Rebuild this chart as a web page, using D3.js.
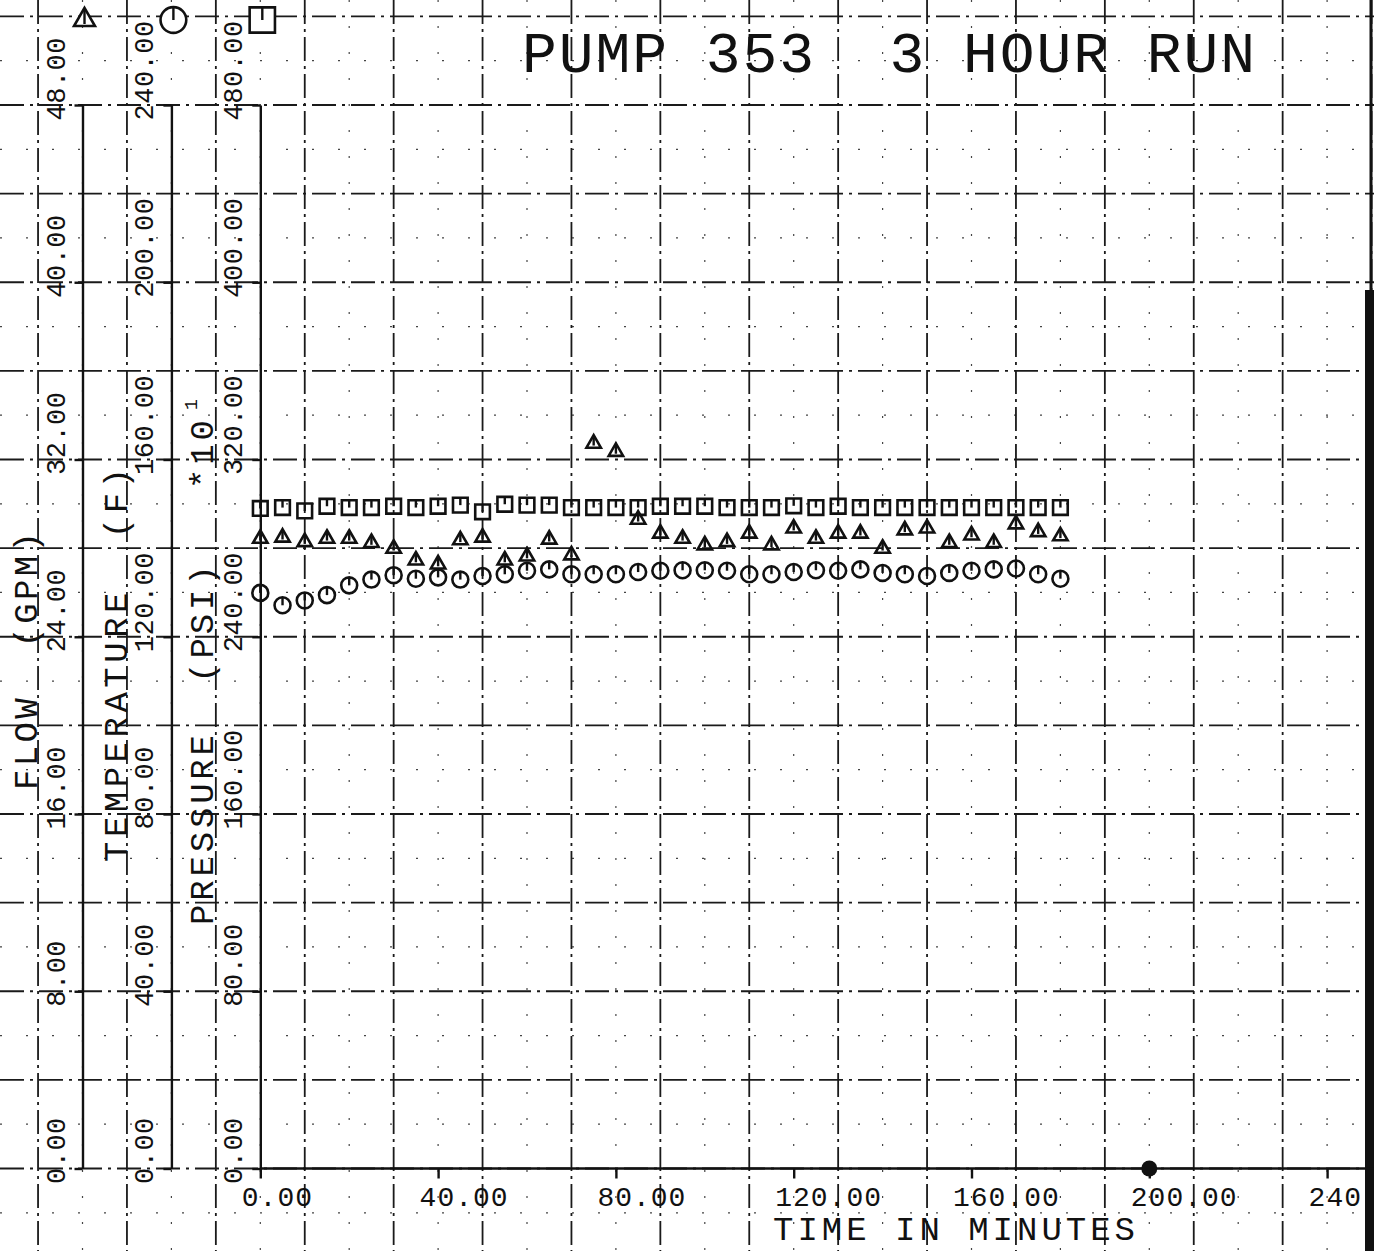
<!DOCTYPE html>
<html>
<head>
<meta charset="utf-8">
<script src="https://cdn.jsdelivr.net/npm/d3@7"></script>
<style>
  html, body { margin: 0; padding: 0; background: #fff; }
  svg { display: block; background: #fff; }
  text { font-family: "Liberation Mono", "DejaVu Sans Mono", monospace; fill: #111; }
</style>
</head>
<body>
<svg width="1374" height="1251"></svg>
<script>
// Readings taken every 5 minutes over the 3 hour run
const times = [0, 5, 10, 15, 20, 25, 30, 35, 40, 45, 50, 55, 60, 65, 70, 75, 80, 85, 90,
    95, 100, 105, 110, 115, 120, 125, 130, 135, 140, 145, 150, 155, 160, 165, 170, 175, 180];

const flowGpm = [28.43, 28.48, 28.28, 28.43, 28.43, 28.24, 27.98, 27.45, 27.27, 28.36,
    28.48, 27.45, 27.63, 28.39, 27.68, 32.72, 32.35, 29.29, 28.66, 28.43,
    28.13, 28.28, 28.66, 28.13, 28.89, 28.43, 28.66, 28.66, 27.98, 28.81,
    28.89, 28.24, 28.58, 28.24, 29.08, 28.73, 28.54];

const temperatureF = [129.9, 127.1, 128.2, 129.4, 131.6, 132.9, 133.9, 133.1, 133.4, 132.9,
    133.7, 134.1, 134.9, 135.2, 134.1, 134.1, 134.1, 134.6, 134.9, 135.0,
    135.0, 134.9, 134.1, 134.1, 134.6, 135.0, 134.9, 135.2, 134.4, 134.1,
    133.7, 134.4, 134.9, 135.2, 135.4, 134.1, 133.1];

// pressure in units of 10 psi
const pressurePsi = [297.9, 298.3, 296.8, 298.9, 298.3, 298.3, 298.9, 298.3, 298.9, 299.4,
    296.4, 299.8, 299.4, 299.4, 298.3, 298.3, 298.3, 298.3, 298.9, 298.9,
    298.9, 298.3, 298.3, 298.3, 299.1, 298.3, 298.9, 298.3, 298.3, 298.3,
    298.3, 298.3, 298.3, 298.3, 298.3, 298.3, 298.3];

const timeTicks = [0, 40, 80, 120, 160, 200, 240];
const flowTicks = [0, 8, 16, 24, 32, 40, 48];
const tempTicks = [0, 40, 80, 120, 160, 200, 240];
const pressureTicks = [0, 80, 160, 240, 320, 400, 480];
const penStop = 200;

const svg = d3.select("svg"),
    width = +svg.attr("width"),
    height = +svg.attr("height");

const ink = "#111";

// Scales (paper squares line up with 20 minutes / 4 gpm)
const x = d3.scaleLinear().domain([0, 240]).range([260.3, 1327.1]);
const yFlow = d3.scaleLinear().domain([0, 48]).range([1168.5, 105]);
const yTemp = d3.scaleLinear().domain([0, 240]).range([1168.5, 105]);
const yPress = d3.scaleLinear().domain([0, 480]).range([1168.5, 105]);

// Graph paper
const paper = svg.append("g").attr("class", "paper");

paper.selectAll("line.vminor")
    .data(d3.range(-40, 241, 20))
    .enter().append("line")
    .attr("x1", d => x(d)).attr("x2", d => x(d))
    .attr("y1", 0).attr("y2", height)
    .attr("stroke", "#444").attr("stroke-width", 1.2)
    .attr("stroke-dasharray", "2,24");

paper.selectAll("line.hminor")
    .data(d3.range(-2, 51, 4))
    .enter().append("line")
    .attr("x1", 0).attr("x2", width)
    .attr("y1", d => yFlow(d)).attr("y2", d => yFlow(d))
    .attr("stroke", "#444").attr("stroke-width", 1.2)
    .attr("stroke-dasharray", "2,24");

paper.selectAll("line.vmajor")
    .data(d3.range(-50, 251, 20))
    .enter().append("line")
    .attr("x1", d => x(d)).attr("x2", d => x(d))
    .attr("y1", 0).attr("y2", height)
    .attr("stroke", "#1a1a1a").attr("stroke-width", 1.8)
    .attr("stroke-dasharray", "24,5,3,5");

paper.selectAll("line.hmajor")
    .data(d3.range(0, 53, 4))
    .enter().append("line")
    .attr("x1", 0).attr("x2", width)
    .attr("y1", d => yFlow(d)).attr("y2", d => yFlow(d))
    .attr("stroke", "#1a1a1a").attr("stroke-width", 1.8)
    .attr("stroke-dasharray", "24,6,3,6");

// scanner edge on the right
svg.append("line")
    .attr("x1", width - 3).attr("x2", width - 3)
    .attr("y1", 0).attr("y2", 290)
    .attr("stroke", ink).attr("stroke-width", 3);
svg.append("rect")
    .attr("x", width - 9).attr("y", 290)
    .attr("width", 9).attr("height", height - 290)
    .attr("fill", ink);

// Y axes, labels rotated and reading upward
function yAxis(scale, ticks, t) {
    const ax = x(t);
    const g = svg.append("g")
        .attr("transform", `translate(${ax},0)`)
        .call(d3.axisLeft(scale).tickValues(ticks).tickFormat(d3.format(".2f"))
            .tickSize(8).tickSizeOuter(0));
    g.select(".domain").attr("stroke", ink).attr("stroke-width", 2.4);
    g.selectAll(".tick line").attr("stroke", ink).attr("stroke-width", 2.4);
    g.selectAll(".tick text")
        .attr("transform", "rotate(-90)")
        .attr("x", -15).attr("y", -18).attr("dy", 0)
        .attr("text-anchor", "start")
        .attr("font-size", 27)
        .attr("letter-spacing", 0.5)
        .attr("fill", ink);
    return ax;
}

const flowX = yAxis(yFlow, flowTicks, -40);
const tempX = yAxis(yTemp, tempTicks, -20);
const pressX = yAxis(yPress, pressureTicks, 0);

// X axis
const gx = svg.append("g")
    .attr("transform", `translate(0,${yFlow(0)})`)
    .call(d3.axisBottom(x).tickValues(timeTicks).tickFormat(d3.format(".2f"))
        .tickSize(10).tickSizeOuter(0));
gx.select(".domain").remove();
gx.selectAll(".tick line").attr("stroke", ink).attr("stroke-width", 2.4);
gx.selectAll(".tick text")
    .attr("x", -19).attr("y", 37).attr("dy", 0)
    .attr("text-anchor", "start")
    .attr("font-size", 28)
    .attr("letter-spacing", 1)
    .attr("fill", ink);

svg.append("line")
    .attr("x1", x(0)).attr("x2", width)
    .attr("y1", yFlow(0)).attr("y2", yFlow(0))
    .attr("stroke", ink).attr("stroke-width", 2.6);

// pen rest dot
svg.append("circle")
    .attr("cx", x(penStop)).attr("cy", yFlow(0))
    .attr("r", 8).attr("fill", ink);

// Titles
svg.append("text")
    .attr("x", 522).attr("y", 72)
    .attr("font-size", 58)
    .attr("textLength", 733).attr("lengthAdjust", "spacing")
    .style("white-space", "pre")
    .text("PUMP 353  3 HOUR RUN");

svg.append("text")
    .attr("x", 773).attr("y", 1240)
    .attr("font-size", 34)
    .attr("textLength", 362).attr("lengthAdjust", "spacing")
    .text("TIME IN MINUTES");

function sideTitle(label, bx, y0, len) {
    svg.append("text")
        .attr("transform", `translate(${bx},${y0}) rotate(-90)`)
        .attr("font-size", 34)
        .attr("textLength", len).attr("lengthAdjust", "spacing")
        .style("white-space", "pre")
        .text(label);
}
sideTitle("FLOW  (GPM)", 37, 790, 258);
sideTitle("TEMPERATURE  (F)", 127, 862, 394);
sideTitle("PRESSURE  (PSI)   *10", 213, 925, 505);
svg.append("text")
    .attr("transform", `translate(197,410) rotate(-90)`)
    .attr("font-size", 18)
    .text("1");

// Data
const rows = times.map((t, i) => ({
    t: t, flow: flowGpm[i], temp: temperatureF[i], press: pressurePsi[i]
}));

const symSquare = d3.symbol().type(d3.symbolSquare).size(215);
const symCircle = d3.symbol().type(d3.symbolCircle).size(200);
const symTriangle = d3.symbol().type(d3.symbolTriangle).size(90);

function plotSeries(key, scale, sym, tickPath) {
    const g = svg.append("g")
        .selectAll("g")
        .data(rows)
        .enter().append("g")
        .attr("transform", d => `translate(${x(d.t)},${scale(d[key])})`);
    g.append("path")
        .attr("d", sym)
        .attr("fill", "none")
        .attr("stroke", ink)
        .attr("stroke-width", 2.6);
    g.append("path")
        .attr("d", tickPath)
        .attr("stroke", ink)
        .attr("stroke-width", 2.4);
}

plotSeries("press", yPress, symSquare, "M0,0V-7");
plotSeries("temp", yTemp, symCircle, "M0,0V-8");
plotSeries("flow", yFlow, symTriangle, "M0,2V-6");

// Symbol keys at the top of each axis
const keys = [
    { ax: flowX, sym: d3.symbol().type(d3.symbolTriangle).size(190), tick: "M0,4V-10" },
    { ax: tempX, sym: d3.symbol().type(d3.symbolCircle).size(520), tick: "M0,0V-13" },
    { ax: pressX, sym: d3.symbol().type(d3.symbolSquare).size(640), tick: "M0,0V-13" }
];
const key = svg.append("g")
    .selectAll("g")
    .data(keys)
    .enter().append("g")
    .attr("transform", d => `translate(${d.ax + 2},20)`);
key.append("path")
    .attr("d", d => d.sym())
    .attr("fill", "#fff")
    .attr("stroke", ink)
    .attr("stroke-width", 2.6);
key.append("path")
    .attr("d", d => d.tick)
    .attr("stroke", ink)
    .attr("stroke-width", 2.4);
</script>
</body>
</html>
